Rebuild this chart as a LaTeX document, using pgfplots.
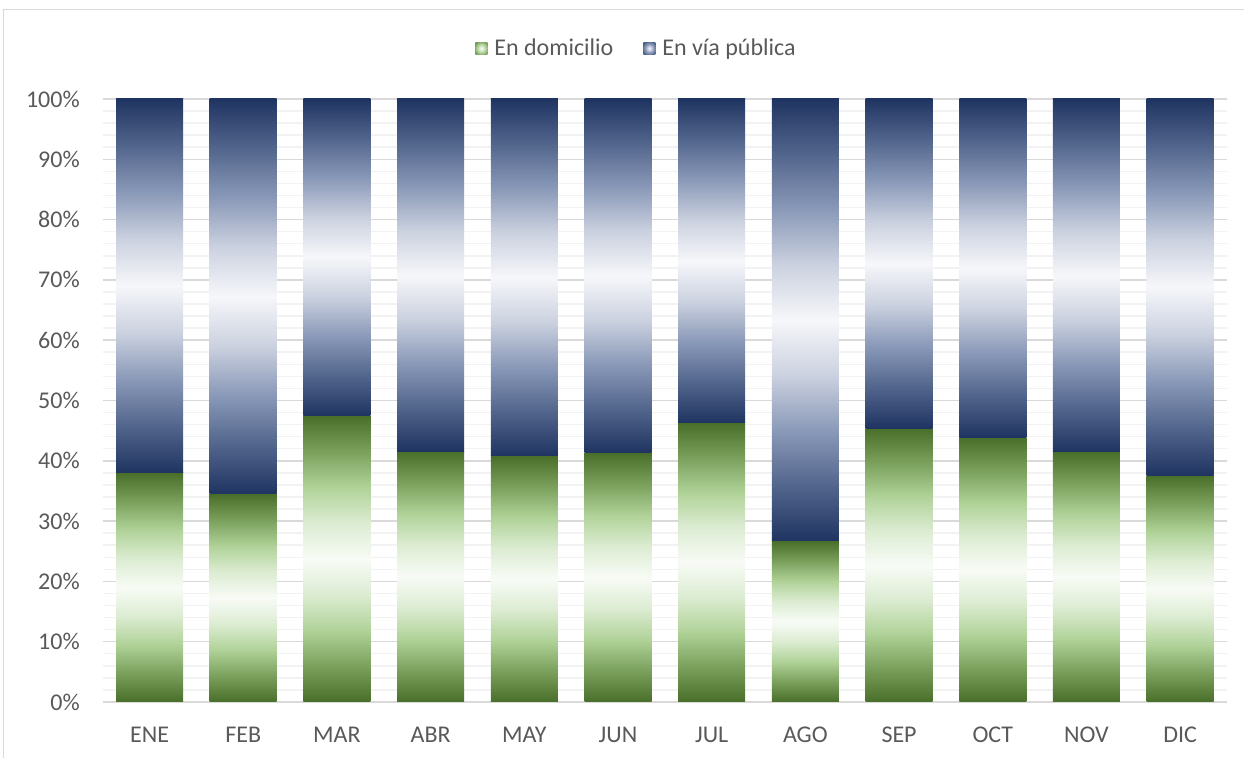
\documentclass[border=0pt]{standalone}
\usepackage{pgfplots}
\pgfplotsset{compat=1.18}
\usepackage{fontspec}
\setmainfont{Carlito}
\definecolor{txtgray}{HTML}{595959}
\definecolor{gridmaj}{HTML}{D9D9D9}
\definecolor{gridmin}{HTML}{F2F2F2}
\definecolor{gdark}{RGB}{72,110,42}
\definecolor{gq}{RGB}{122,160,92}
\definecolor{gmid}{RGB}{176,210,152}
\definecolor{gl}{RGB}{220,236,210}
\definecolor{gwhite}{RGB}{248,251,246}
\definecolor{bdark}{RGB}{31,52,97}
\definecolor{bq}{RGB}{82,101,140}
\definecolor{bmid}{RGB}{138,153,184}
\definecolor{bl}{RGB}{203,209,223}
\definecolor{bwhite}{RGB}{246,247,250}
\pgfdeclareverticalshading{greenbar}{100bp}{color(0bp)=(gdark); color(25bp)=(gdark); color(31.25bp)=(gq); color(37.5bp)=(gmid); color(43.75bp)=(gl); color(50bp)=(gwhite); color(56.25bp)=(gl); color(62.5bp)=(gmid); color(68.75bp)=(gq); color(75bp)=(gdark); color(100bp)=(gdark)}
\pgfdeclareverticalshading{bluebar}{100bp}{color(0bp)=(bdark); color(25bp)=(bdark); color(31.25bp)=(bq); color(37.5bp)=(bmid); color(43.75bp)=(bl); color(50bp)=(bwhite); color(56.25bp)=(bl); color(62.5bp)=(bmid); color(68.75bp)=(bq); color(75bp)=(bdark); color(100bp)=(bdark)}
\pgfdeclareradialshading{greenleg}{\pgfpoint{0bp}{0bp}}{color(0bp)=(gwhite); color(8bp)=(gl); color(18bp)=(gmid); color(30bp)=(gq); color(50bp)=(gdark)}
\pgfdeclareradialshading{blueleg}{\pgfpoint{0bp}{0bp}}{color(0bp)=(bwhite); color(8bp)=(bl); color(18bp)=(bmid); color(30bp)=(bq); color(50bp)=(bdark)}
\pgfplotsset{
  gbar/.style={draw=none, shading=greenbar, forget plot},
  bbar/.style={draw=none, shading=bluebar, forget plot},
}
\begin{document}
\begin{tikzpicture}
\useasboundingbox (0,0) rectangle (622pt,379pt);
\draw[gridmaj, line width=0.75pt] (1.75pt,-2pt) -- (1.75pt,374.25pt) -- (624pt,374.25pt);
\begin{axis}[
  at={(51.35pt,28pt)}, anchor=south west,
  scale only axis, width=562.15pt, height=301.5pt,
  xmin=-0.5, xmax=11.5, ymin=0, ymax=100,
  xtick={0,...,11},
  xticklabels={ENE,FEB,MAR,ABR,MAY,JUN,JUL,AGO,SEP,OCT,NOV,DIC},
  ytick={0,10,...,100},
  yticklabels={0\%,10\%,20\%,30\%,40\%,50\%,60\%,70\%,80\%,90\%,100\%},
  minor y tick num=4,
  ymajorgrids, yminorgrids,
  major grid style={draw=gridmaj, line width=0.75pt},
  minor grid style={draw=gridmin, line width=0.75pt},
  axis line style={draw=none},
  tick style={draw=none},
  major tick length=0pt, minor tick length=0pt,
  tick label style={font=\fontsize{12}{14}\selectfont, text=txtgray},
  xticklabel style={anchor=base, inner sep=0pt, yshift=-20.5pt},
  yticklabel style={anchor=east, inner sep=0pt, xshift=-11.3pt},
  legend columns=2,
  legend style={at={(0.4757,1.084)}, anchor=center, draw=none, fill=none,
    font=\fontsize{12}{14}\selectfont, text=txtgray,
    /tikz/every even column/.append style={column sep=13pt}},
  legend image code/.code={\path[#1, draw=none] (0pt,-3pt) rectangle (6pt,3pt); \path (7.5pt,0pt);},
]
% En domicilio (0 to value) and En via publica (value to 100), one bar per month
\addplot[gbar] coordinates {(-0.3575,0) (0.3575,0) (0.3575,38.0) (-0.3575,38.0)} -- cycle;
\addplot[bbar] coordinates {(-0.3575,38.0) (0.3575,38.0) (0.3575,100) (-0.3575,100)} -- cycle;
\addplot[gbar] coordinates {(0.6425,0) (1.3575,0) (1.3575,34.5) (0.6425,34.5)} -- cycle;
\addplot[bbar] coordinates {(0.6425,34.5) (1.3575,34.5) (1.3575,100) (0.6425,100)} -- cycle;
\addplot[gbar] coordinates {(1.6425,0) (2.3575,0) (2.3575,47.5) (1.6425,47.5)} -- cycle;
\addplot[bbar] coordinates {(1.6425,47.5) (2.3575,47.5) (2.3575,100) (1.6425,100)} -- cycle;
\addplot[gbar] coordinates {(2.6425,0) (3.3575,0) (3.3575,41.6) (2.6425,41.6)} -- cycle;
\addplot[bbar] coordinates {(2.6425,41.6) (3.3575,41.6) (3.3575,100) (2.6425,100)} -- cycle;
\addplot[gbar] coordinates {(3.6425,0) (4.3575,0) (4.3575,40.8) (3.6425,40.8)} -- cycle;
\addplot[bbar] coordinates {(3.6425,40.8) (4.3575,40.8) (4.3575,100) (3.6425,100)} -- cycle;
\addplot[gbar] coordinates {(4.6425,0) (5.3575,0) (5.3575,41.3) (4.6425,41.3)} -- cycle;
\addplot[bbar] coordinates {(4.6425,41.3) (5.3575,41.3) (5.3575,100) (4.6425,100)} -- cycle;
\addplot[gbar] coordinates {(5.6425,0) (6.3575,0) (6.3575,46.3) (5.6425,46.3)} -- cycle;
\addplot[bbar] coordinates {(5.6425,46.3) (6.3575,46.3) (6.3575,100) (5.6425,100)} -- cycle;
\addplot[gbar] coordinates {(6.6425,0) (7.3575,0) (7.3575,26.7) (6.6425,26.7)} -- cycle;
\addplot[bbar] coordinates {(6.6425,26.7) (7.3575,26.7) (7.3575,100) (6.6425,100)} -- cycle;
\addplot[gbar] coordinates {(7.6425,0) (8.3575,0) (8.3575,45.4) (7.6425,45.4)} -- cycle;
\addplot[bbar] coordinates {(7.6425,45.4) (8.3575,45.4) (8.3575,100) (7.6425,100)} -- cycle;
\addplot[gbar] coordinates {(8.6425,0) (9.3575,0) (9.3575,43.9) (8.6425,43.9)} -- cycle;
\addplot[bbar] coordinates {(8.6425,43.9) (9.3575,43.9) (9.3575,100) (8.6425,100)} -- cycle;
\addplot[gbar] coordinates {(9.6425,0) (10.3575,0) (10.3575,41.5) (9.6425,41.5)} -- cycle;
\addplot[bbar] coordinates {(9.6425,41.5) (10.3575,41.5) (10.3575,100) (9.6425,100)} -- cycle;
\addplot[gbar] coordinates {(10.6425,0) (11.3575,0) (11.3575,37.6) (10.6425,37.6)} -- cycle;
\addplot[bbar] coordinates {(10.6425,37.6) (11.3575,37.6) (11.3575,100) (10.6425,100)} -- cycle;
\addlegendimage{draw=none, shading=greenleg}
\addlegendentry{En domicilio}
\addlegendimage{draw=none, shading=blueleg}
\addlegendentry{En vía pública}
\end{axis}
\end{tikzpicture}
\end{document}
